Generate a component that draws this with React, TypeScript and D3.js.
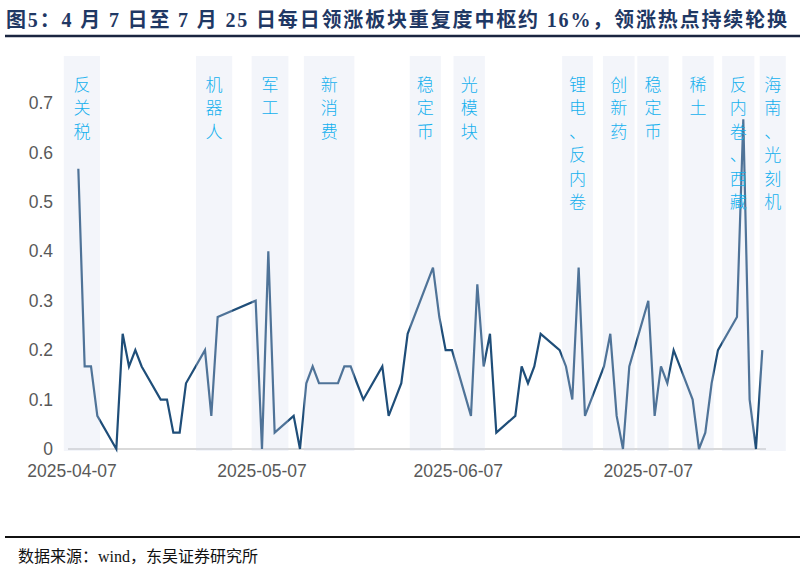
import { scaleLinear, scaleTime, line, timeParse } from 'd3'

const parseDay = timeParse('%Y-%m-%d')
const parseHour = timeParse('%Y-%m-%dT%H')

// 每日领涨板块重复度
const dates = [
  '2025-04-08', '2025-04-09', '2025-04-10', '2025-04-11', '2025-04-14', '2025-04-15', '2025-04-16', '2025-04-17',
  '2025-04-18', '2025-04-21', '2025-04-22', '2025-04-23', '2025-04-24', '2025-04-25', '2025-04-28', '2025-04-29',
  '2025-04-30', '2025-05-06', '2025-05-07', '2025-05-08', '2025-05-09', '2025-05-12', '2025-05-13', '2025-05-14',
  '2025-05-15', '2025-05-16', '2025-05-19', '2025-05-20', '2025-05-21', '2025-05-22', '2025-05-23', '2025-05-26',
  '2025-05-27', '2025-05-28', '2025-05-29', '2025-05-30', '2025-06-03', '2025-06-04', '2025-06-05', '2025-06-06',
  '2025-06-09', '2025-06-10', '2025-06-11', '2025-06-12', '2025-06-13', '2025-06-16', '2025-06-17', '2025-06-18',
  '2025-06-19', '2025-06-20', '2025-06-23', '2025-06-24', '2025-06-25', '2025-06-26', '2025-06-27', '2025-06-30',
  '2025-07-01', '2025-07-02', '2025-07-03', '2025-07-04', '2025-07-07', '2025-07-08', '2025-07-09', '2025-07-10',
  '2025-07-11', '2025-07-14', '2025-07-15', '2025-07-16', '2025-07-17', '2025-07-18', '2025-07-21', '2025-07-22',
  '2025-07-23', '2025-07-24', '2025-07-25',
]

const values = [
  0.567, 0.167, 0.167, 0.067, 0, 0.233, 0.167, 0.2,
  0.167, 0.1, 0.1, 0.033, 0.033, 0.133, 0.2, 0.067,
  0.267, 0.3, 0, 0.4, 0.033, 0.067, 0, 0.133,
  0.167, 0.133, 0.133, 0.167, 0.167, 0.133, 0.1, 0.167,
  0.067, 0.1, 0.133, 0.233, 0.367, 0.267, 0.2, 0.2,
  0.067, 0.333, 0.167, 0.233, 0.033, 0.067, 0.167, 0.133,
  0.167, 0.233, 0.2, 0.167, 0.1, 0.367, 0.067, 0.167,
  0.233, 0.067, 0, 0.167, 0.3, 0.067, 0.167, 0.133,
  0.2, 0.1, 0, 0.033, 0.133, 0.2, 0.267, 0.667,
  0.1, 0, 0.2,
]

// 热点区间
const bandStarts = [
  '2025-04-05T17', '2025-04-26T14', '2025-05-05T09', '2025-05-13T15', '2025-05-30T08', '2025-06-06T06',
  '2025-06-23T09', '2025-06-29T20', '2025-07-05T06', '2025-07-12T09', '2025-07-18T16', '2025-07-24T14',
]
const bandEnds = [
  '2025-04-11T10', '2025-05-02T07', '2025-05-11T04', '2025-05-21T14', '2025-06-04T06', '2025-06-11T05',
  '2025-06-28T06', '2025-07-04T20', '2025-07-10T05', '2025-07-17T08', '2025-07-23T18', '2025-07-28T17',
]
const bandLabels = [
  '反关税', '机器人', '军工', '新消费', '稳定币', '光模块',
  '锂电、反内卷', '创新药', '稳定币', '稀土', '反内卷、西藏', '海南、光刻机',
]

const yTicks = [0, 0.1, 0.2, 0.3, 0.4, 0.5, 0.6, 0.7]
const xTicks = ['2025-04-07', '2025-05-07', '2025-06-07', '2025-07-07']

const title = '图5：4 月 7 日至 7 月 25 日每日领涨板块重复度中枢约 16%，领涨热点持续轮换'
const source = '数据来源：wind，东吴证券研究所'

const WIDTH = 805
const HEIGHT = 570

export default function App() {
  const x = scaleTime()
    .domain([parseDay('2025-04-07') as Date, parseDay('2025-07-25') as Date])
    .range([72, 762.3])
  const y = scaleLinear().domain([0, 0.7]).range([449, 103])

  const points = dates.map((d, i) => [x(parseDay(d) as Date), y(values[i])] as [number, number])
  const path = line()(points) ?? ''

  const axisFont = '"Liberation Sans", Arial, sans-serif'
  const cjk = '"Noto Sans CJK SC", sans-serif'

  return (
    <svg
      width={WIDTH}
      height={HEIGHT}
      style={{ position: 'absolute', left: 0, top: 0, background: '#fff' }}
    >
      <text
        x={6}
        y={27}
        fontSize={20}
        fontWeight="bold"
        fill="#1f3864"
        fontFamily={`"Liberation Serif", ${cjk}`}
        textLength={781}
        lengthAdjust="spacing"
      >
        {title}
      </text>
      <line x1={5} x2={800} y1={36} y2={36} stroke="#1a2540" strokeWidth={2.5} />

      {/* y axis labels */}
      {yTicks.map(t => (
        <text
          key={t}
          x={53}
          y={y(t)}
          dy="0.35em"
          textAnchor="end"
          fontSize={17.5}
          fill="#595959"
          fontFamily={axisFont}
        >
          {t === 0 ? '0' : t.toFixed(1)}
        </text>
      ))}

      {/* x axis */}
      <line x1={68} x2={766} y1={y(0)} y2={y(0)} stroke="#d9d9d9" strokeWidth={2} />
      {xTicks.map(t => (
        <text
          key={t}
          x={x(parseDay(t) as Date)}
          y={477}
          textAnchor="middle"
          fontSize={17.5}
          fill="#595959"
          fontFamily={axisFont}
        >
          {t}
        </text>
      ))}

      <path d={path} fill="none" stroke="#1f4e79" strokeWidth={2.2} strokeLinejoin="miter" />

      {/* highlighted hot-spot bands, drawn over the line */}
      {bandStarts.map((s, i) => {
        const x0 = x(parseHour(s) as Date)
        const x1 = x(parseHour(bandEnds[i]) as Date)
        const cx = (x0 + x1) / 2
        const chars = Array.from(bandLabels[i])
        return (
          <g key={i}>
            <rect
              x={x0}
              y={56}
              width={x1 - x0}
              height={y(0) + 2 - 56}
              fill="#d2daed"
              fillOpacity={0.27}
            />
            {chars.map((c, j) => (
              <text
                key={j}
                x={cx}
                y={91 + j * 23.4}
                textAnchor="middle"
                fontSize={17}
                fill="#14b0ee"
                fontFamily={cjk}
                fontWeight={300}
              >
                {c}
              </text>
            ))}
          </g>
        )
      })}

      <line x1={5} x2={800} y1={537} y2={537} stroke="#111" strokeWidth={2} />
      <text
        x={18}
        y={562}
        fontSize={16}
        fill="#111"
        fontFamily={`"Liberation Serif", ${cjk}`}
      >
        {source}
      </text>
    </svg>
  )
}
